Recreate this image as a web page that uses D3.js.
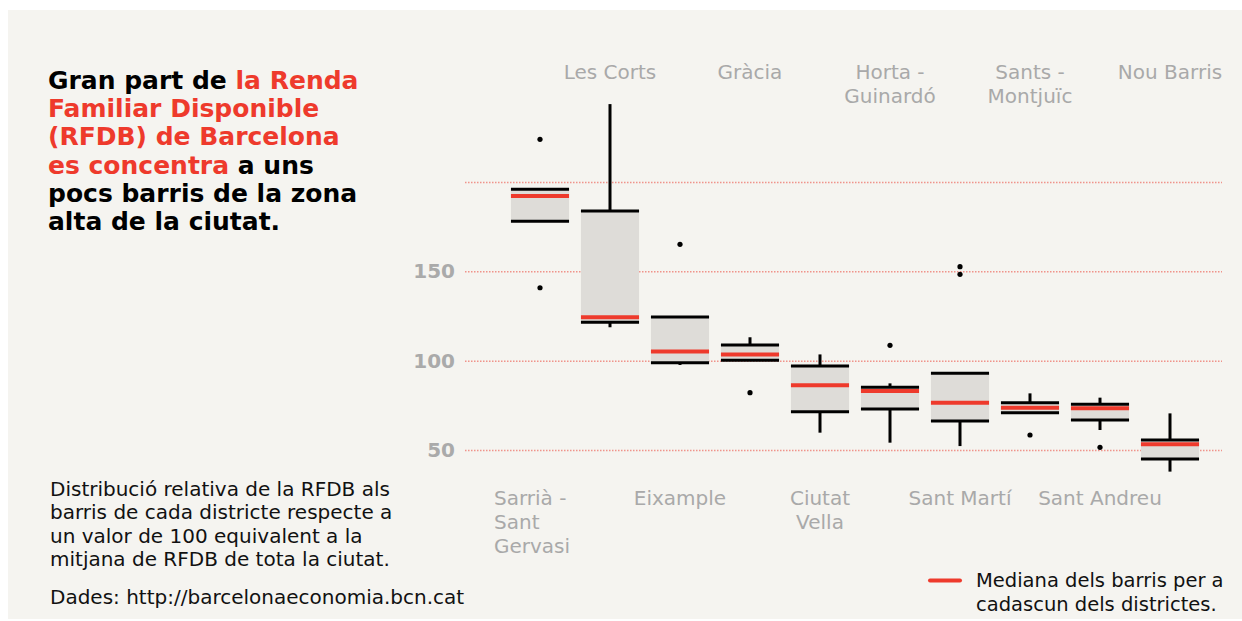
<!DOCTYPE html>
<meta charset="utf-8">
<script src="https://d3js.org/d3.v7.min.js"></script>
<style>
  body { margin: 0; background: #fff; }
  text { font-family: "DejaVu Sans", sans-serif; }
</style>
<div id="chart"></div>
<script>

  // districts, ordered as in the chart
  const districts = ["Sarrià - Sant Gervasi", "Les Corts", "Eixample", "Gràcia", "Ciutat Vella",
    "Horta - Guinardó", "Sant Martí", "Sants - Montjuïc", "Sant Andreu", "Nou Barris"];
  const districtLabels = [["Sarrià -", "Sant", "Gervasi"], ["Les Corts"], ["Eixample"], ["Gràcia"],
    ["Ciutat", "Vella"], ["Horta -", "Guinardó"], ["Sant Martí"], ["Sants -", "Montjuïc"],
    ["Sant Andreu"], ["Nou Barris"]];

  // box plot stats (RFDB index, Barcelona = 100)
  const whiskerLow  = [178.1, 118.7, 97.6, 100.2, 59.7, 54.1, 52.2, 70.9, 61.2, 37.9];
  const q1          = [178.1, 121.5, 98.9, 100.2, 71.4, 72.9, 66.2, 70.9, 66.8, 45.0];
  const medians     = [192.1, 124.3, 105.2, 103.5, 86.2, 83.0, 76.5, 73.7, 73.3, 53.2];
  const q3          = [195.9, 183.7, 124.4, 108.8, 97.0, 85.1, 92.9, 76.5, 75.6, 55.6];
  const whiskerHigh = [195.9, 243.6, 124.4, 113.1, 103.5, 87.3, 92.9, 81.7, 79.3, 70.5];
  const outliers = [[223.9, 140.8], [], [165.1], [82.1], [], [108.6], [152.6, 148.3], [58.4], [51.5], []];

  const gridValues = [50, 100, 150, 200];
  const tickLabels = [50, 100, 150];

  const titleLines = [
    [["Gran part de ", false], ["la Renda", true]],
    [["Familiar Disponible", true]],
    [["(RFDB) de Barcelona", true]],
    [["es concentra", true], [" a uns", false]],
    [["pocs barris de la zona", false]],
    [["alta de la ciutat.", false]]
  ];
  const noteLines = ["Distribució relativa de la RFDB als", "barris de cada districte respecte a",
    "un valor de 100 equivalent a la", "mitjana de RFDB de tota la ciutat."];
  const source = "Dades: http://barcelonaeconomia.bcn.cat";
  const legendLines = ["Mediana dels barris per a", "cadascun dels districtes."];

  const red = "#ee3a2c";
  const W = 1242, H = 621;

  const svg = d3.select("#chart").append("svg")
    .attr("width", W).attr("height", H);

  svg.append("rect")
    .attr("x", 8).attr("y", 10).attr("width", W - 8).attr("height", 609)
    .attr("fill", "#f5f4f0");

  const data = districts.map((d, i) => ({
    name: d, label: districtLabels[i], lo: whiskerLow[i], q1: q1[i], med: medians[i],
    q3: q3[i], hi: whiskerHigh[i], out: outliers[i]
  }));

  // scales
  const x = d3.scaleBand()
    .domain(districts)
    .range([505, 1205])
    .paddingInner(0.17)
    .paddingOuter(0.085);
  const y = d3.scaleLinear()
    .domain([50, 200])
    .range([450, 182]);

  // dotted grid + tick labels
  const yAxis = svg.append("g")
    .attr("transform", "translate(465,0)")
    .call(d3.axisLeft(y)
      .tickValues(gridValues)
      .tickSize(-757)
      .tickPadding(10)
      .tickFormat(d => tickLabels.includes(d) ? d : ""));
  yAxis.select(".domain").remove();
  yAxis.selectAll("line")
    .attr("stroke", "#ee6a60")
    .attr("stroke-opacity", 0.7)
    .attr("stroke-width", 1.5)
    .attr("stroke-dasharray", "1.5,1.5");
  yAxis.selectAll("text")
    .attr("fill", "#aaaaaa")
    .attr("font-size", 20)
    .attr("font-weight", "bold")
    .attr("font-family", "DejaVu Sans");

  // boxes
  const g = svg.append("g");
  const bw = x.bandwidth();
  const box = g.selectAll("g.box")
    .data(data)
    .join("g")
      .attr("class", "box")
      .attr("transform", d => `translate(${x(d.name)},0)`);

  box.append("rect")
    .attr("x", 0).attr("width", bw)
    .attr("y", d => y(d.q3))
    .attr("height", d => y(d.q1) - y(d.q3))
    .attr("fill", "#dedcd8");

  box.append("line")
    .attr("x1", bw / 2).attr("x2", bw / 2)
    .attr("y1", d => y(d.q3)).attr("y2", d => y(d.hi))
    .attr("stroke", "#000").attr("stroke-width", 3);
  box.append("line")
    .attr("x1", bw / 2).attr("x2", bw / 2)
    .attr("y1", d => y(d.q1)).attr("y2", d => y(d.lo))
    .attr("stroke", "#000").attr("stroke-width", 3);

  box.append("line")
    .attr("x1", 0).attr("x2", bw)
    .attr("y1", d => y(d.q3)).attr("y2", d => y(d.q3))
    .attr("stroke", "#000").attr("stroke-width", 3);
  box.append("line")
    .attr("x1", 0).attr("x2", bw)
    .attr("y1", d => y(d.q1)).attr("y2", d => y(d.q1))
    .attr("stroke", "#000").attr("stroke-width", 3);
  box.append("line")
    .attr("x1", 0).attr("x2", bw)
    .attr("y1", d => y(d.med)).attr("y2", d => y(d.med))
    .attr("stroke", red).attr("stroke-width", 4);

  box.selectAll("circle")
    .data(d => d.out)
    .join("circle")
      .attr("cx", bw / 2)
      .attr("cy", v => y(v))
      .attr("r", 2.6)
      .attr("fill", "#000");

  // district labels, alternating bottom / top
  const labels = svg.append("g")
    .selectAll("text")
    .data(data)
    .join("text")
      .attr("font-size", 20)
      .attr("fill", "#a9a9a9")
      .attr("text-anchor", (d, i) => i === 0 ? "start" : "middle")
      .attr("x", (d, i) => x(d.name) + bw / 2 - (i === 0 ? 46 : 0))
      .attr("y", (d, i) => i % 2 === 0 ? 505 : 79);
  labels.selectAll("tspan")
    .data(d => d.label)
    .join("tspan")
      .attr("x", function() { return d3.select(this.parentNode).attr("x"); })
      .attr("dy", (t, j) => j === 0 ? 0 : 24)
      .text(t => t);

  // title
  const title = svg.append("text")
    .attr("font-size", 25)
    .attr("font-weight", "bold")
    .attr("x", 48).attr("y", 89);
  titleLines.forEach((line, i) => {
    line.forEach((part, j) => {
      const t = title.append("tspan")
        .attr("fill", part[1] ? red : "#000")
        .style("white-space", "pre")
        .text(part[0]);
      if (j === 0) t.attr("x", 48).attr("dy", i === 0 ? 0 : 28.2);
    });
  });

  // note + source
  svg.append("g").selectAll("text")
    .data(noteLines)
    .join("text")
      .attr("x", 50)
      .attr("y", (d, i) => 496 + i * 23.3)
      .attr("font-size", 20)
      .attr("fill", "#111")
      .text(d => d);
  svg.append("text")
    .attr("x", 50).attr("y", 604)
    .attr("font-size", 20)
    .attr("fill", "#111")
    .text(source);

  // legend
  svg.append("line")
    .attr("x1", 930).attr("x2", 960)
    .attr("y1", 580.5).attr("y2", 580.5)
    .attr("stroke", red).attr("stroke-width", 4)
    .attr("stroke-linecap", "round");
  svg.append("g").selectAll("text")
    .data(legendLines)
    .join("text")
      .attr("x", 976)
      .attr("y", (d, i) => 587 + i * 23.5)
      .attr("font-size", 19.5)
      .attr("fill", "#111")
      .text(d => d);

</script>
